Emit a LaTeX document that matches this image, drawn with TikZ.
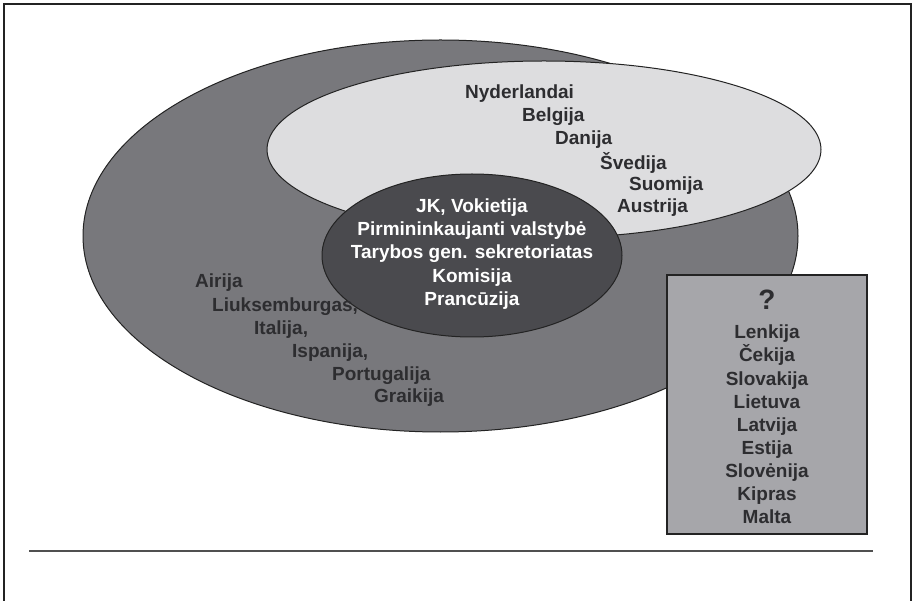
\documentclass[tikz,border=0pt]{standalone}
\usepackage{fontspec}
\setmainfont{Liberation Sans}
\usetikzlibrary{shapes.geometric}
\definecolor{outerfill}{RGB}{120,120,124}
\definecolor{lightfill}{RGB}{221,221,223}
\definecolor{innerfill}{RGB}{74,74,78}
\definecolor{boxfill}{RGB}{166,166,170}
\definecolor{txt}{RGB}{45,45,48}
\definecolor{edge}{RGB}{35,35,35}
\definecolor{rulecol}{RGB}{80,80,80}
\begin{document}
\begin{tikzpicture}[x=1pt,y=-1pt,
  blob/.style={ellipse, draw=edge, line width=1pt, inner sep=0pt, outer sep=0pt},
  lbl/.style={font=\fontsize{19}{23.1}\selectfont\bfseries, text=txt, inner sep=0pt, anchor=west},
  clbl/.style={font=\fontsize{19}{23.1}\selectfont\bfseries, inner sep=0pt, align=center}]
\useasboundingbox (0,0) rectangle (913,601);
\fill[white] (0,0) rectangle (913,601);
% frame
\draw[edge, line width=1.3pt] (4,601) -- (4,4) -- (911,4) -- (911,601);
% ellipses
\node[blob, fill=outerfill, minimum width=715pt, minimum height=392pt] (outer) at (440.5,236) {};
\node[blob, fill=lightfill, minimum width=554pt, minimum height=177pt] (light) at (544,149.5) {};
\node[blob, fill=innerfill, minimum width=300pt, minimum height=163pt] (inner) at (472,255.5) {};
% box
\node[draw=edge, line width=1.6pt, fill=boxfill, minimum width=200pt, minimum height=259pt, inner sep=0pt] (qbox) at (767,404.5) {};
% rule
\draw[rulecol, line width=2pt] (29,551) -- (873,551);
% inner text
\node[clbl, text=white] (core) at (472,254) {JK, Vokietija\\Pirmininkaujanti valstybė\\Tarybos gen. sekretoriatas\\Komisija\\Prancūzija};
% light ellipse text
\node[lbl] (nl) at (465,94) {Nyderlandai};
\node[lbl] (be) at (522,117) {Belgija};
\node[lbl] (dk) at (555,140) {Danija};
\node[lbl] (se) at (600,163) {Švedija};
\node[lbl] (fi) at (629,186) {Suomija};
\node[lbl] (at) at (617,208) {Austrija};
% outer ellipse text
\node[lbl] (ie) at (195,283) {Airija};
\node[lbl] (lu) at (212,307) {Liuksemburgas,};
\node[lbl] (it) at (254,330) {Italija,};
\node[lbl] (es) at (292,353) {Ispanija,};
\node[lbl] (pt) at (332,376) {Portugalija};
\node[lbl] (gr) at (374,398) {Graikija};
% box text
\node[font=\fontsize{28}{30}\selectfont\bfseries, text=txt, inner sep=0pt] (qm) at (767,300) {?};
\node[clbl, text=txt] (newmem) at (767,424.5) {Lenkija\\Čekija\\Slovakija\\Lietuva\\Latvija\\Estija\\Slovėnija\\Kipras\\Malta};
\end{tikzpicture}
\end{document}
